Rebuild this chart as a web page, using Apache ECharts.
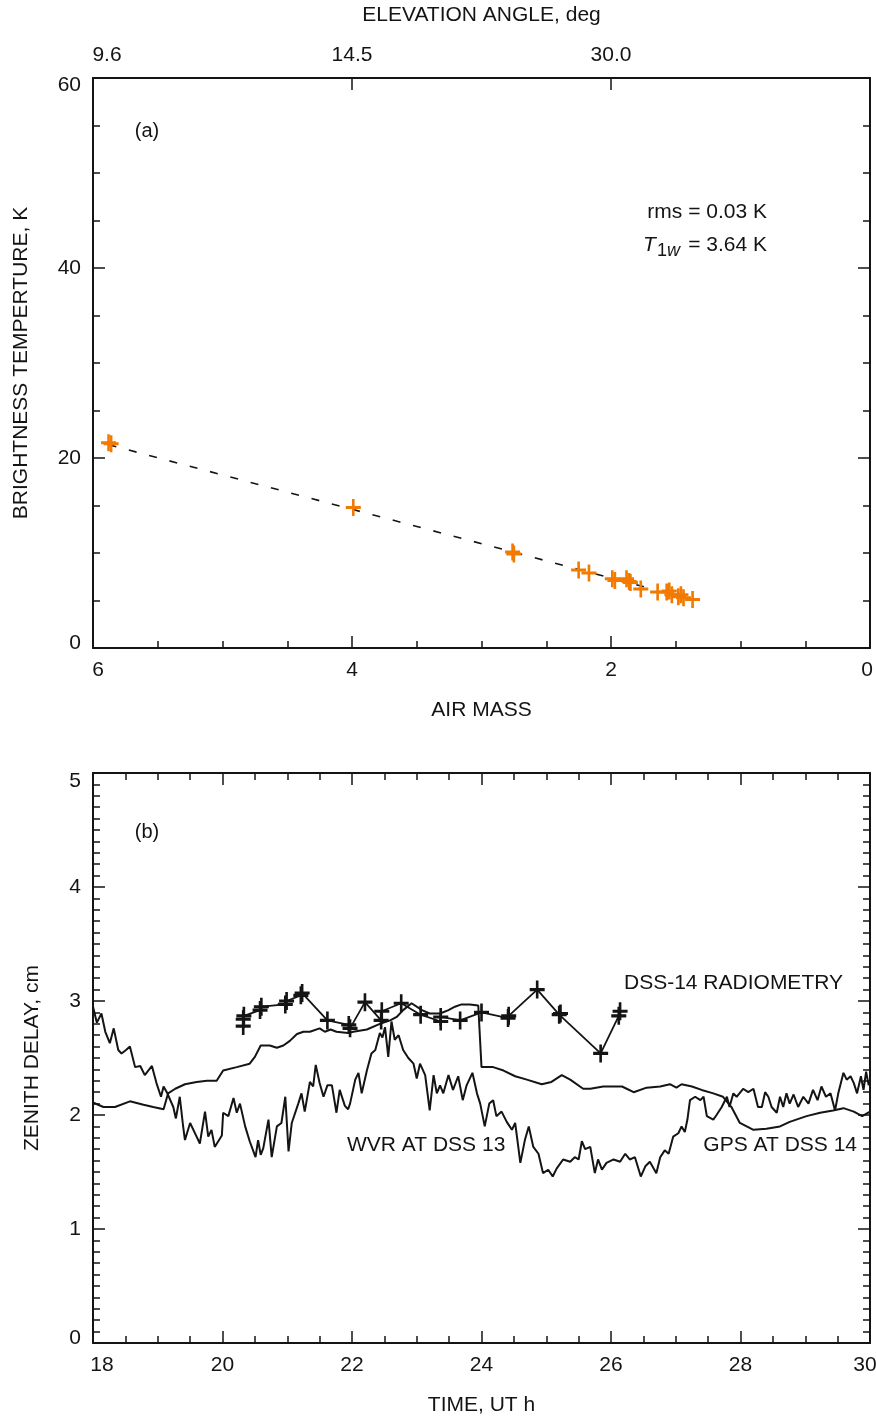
<!DOCTYPE html>
<html>
<head>
<meta charset="utf-8">
<script src="https://cdn.jsdelivr.net/npm/echarts@6/dist/echarts.min.js"></script>
<style>
  html, body { margin: 0; padding: 0; background: #fff; }
  #chart { width: 876px; height: 1422px; }
</style>
</head>
<body>
<div id="chart"></div>
<script>
// panel (a): brightness temperature vs air mass
const airMass = [5.88, 5.86, 3.99, 2.76, 2.75, 2.25, 2.17, 1.99, 1.97, 1.88, 1.86, 1.85, 1.77, 1.64, 1.57, 1.55, 1.53, 1.48, 1.46, 1.44, 1.37]
const brightTemp = [21.6, 21.5, 14.8, 10.1, 9.9, 8.2, 7.9, 7.3, 7.1, 7.3, 7.0, 6.9, 6.2, 5.9, 5.9, 6.0, 5.6, 5.4, 5.6, 5.3, 5.1]
const fitAirMass = [5.88, 1.65]
const fitTemp = [21.4, 6.1]
const elevationLabels = { 6: '9.6', 4: '14.5', 2: '30.0' }

// panel (b): zenith delay vs time
const radTime = [20.32, 20.32, 20.33, 20.58, 20.60, 20.97, 20.99, 21.21, 21.23, 21.62, 21.95, 21.97, 22.20, 22.45, 22.46, 22.76, 23.06, 23.37, 23.37, 23.67, 24.00, 24.41, 24.42, 24.86, 25.20, 25.22, 25.84, 26.12, 26.14]
const radDelay = [2.78, 2.84, 2.87, 2.92, 2.95, 2.97, 3.00, 3.05, 3.07, 2.83, 2.79, 2.76, 2.99, 2.83, 2.91, 2.98, 2.88, 2.82, 2.86, 2.83, 2.90, 2.85, 2.87, 3.10, 2.88, 2.89, 2.54, 2.87, 2.91]

const wvrTime = [18.00, 18.06, 18.13, 18.19, 18.26, 18.32, 18.39, 18.44, 18.51, 18.57, 18.65, 18.73, 18.80, 18.91, 18.98,
  19.05, 19.09, 19.14, 19.24, 19.28, 19.34, 19.39, 19.42, 19.50, 19.60, 19.65, 19.73, 19.78, 19.83, 19.88, 19.99,
  20.01, 20.09, 20.17, 20.22, 20.27, 20.35, 20.42, 20.51, 20.55, 20.59, 20.63, 20.71, 20.76, 20.84, 20.91, 20.97,
  21.02, 21.07, 21.17, 21.22, 21.27, 21.35, 21.40, 21.44, 21.50, 21.56, 21.62, 21.69, 21.76, 21.81, 21.84, 21.89, 21.94, 21.97,
  22.05, 22.10, 22.15, 22.23, 22.30, 22.36, 22.43, 22.47, 22.51, 22.56, 22.61, 22.66, 22.72, 22.79, 22.87, 22.95,
  23.00, 23.05, 23.13, 23.20, 23.26, 23.31, 23.36, 23.41, 23.49, 23.56, 23.64, 23.71, 23.77, 23.86, 23.93, 23.98,
  24.05, 24.12, 24.18, 24.23, 24.31, 24.39, 24.47, 24.52, 24.60, 24.67, 24.73, 24.80, 24.88, 24.95,
  25.03, 25.10, 25.16, 25.26, 25.37, 25.44, 25.50, 25.55, 25.60, 25.68, 25.75, 25.80, 25.86, 25.93,
  26.04, 26.14, 26.22, 26.29, 26.37, 26.46, 26.53, 26.60, 26.70, 26.76, 26.83, 26.89, 26.96,
  27.04, 27.09, 27.14, 27.18, 27.22, 27.30, 27.38, 27.43, 27.48, 27.58, 27.63, 27.71, 27.79, 27.83, 27.89, 27.94,
  28.04, 28.12, 28.20, 28.27, 28.33, 28.38, 28.43, 28.48, 28.56, 28.61, 28.66, 28.71, 28.76, 28.82, 28.89, 28.97,
  29.05, 29.12, 29.19, 29.25, 29.32, 29.39, 29.46, 29.51, 29.59, 29.64, 29.70, 29.75, 29.80, 29.86, 29.90, 29.94, 29.98]
const wvrDelay = [2.95, 2.81, 2.89, 2.73, 2.63, 2.76, 2.57, 2.54, 2.57, 2.60, 2.42, 2.43, 2.35, 2.43, 2.28,
  2.16, 2.25, 2.20, 2.07, 1.97, 2.16, 1.91, 1.78, 1.93, 1.81, 1.75, 2.03, 1.81, 1.87, 1.72, 1.82,
  2.02, 1.99, 2.15, 2.02, 2.10, 1.90, 1.77, 1.63, 1.78, 1.65, 1.71, 1.96, 1.63, 1.90, 1.93, 2.16,
  1.68, 1.93, 2.10, 2.19, 2.03, 2.29, 2.25, 2.44, 2.28, 2.16, 2.26, 2.26, 2.02, 2.22, 2.22, 2.08, 2.05, 2.10,
  2.31, 2.37, 2.19, 2.39, 2.54, 2.57, 2.72, 2.68, 2.77, 2.51, 2.82, 2.66, 2.70, 2.57, 2.50, 2.45,
  2.32, 2.45, 2.35, 2.04, 2.35, 2.19, 2.26, 2.19, 2.35, 2.22, 2.34, 2.13, 2.26, 2.37, 2.19, 2.10,
  1.90, 2.10, 2.13, 1.99, 2.03, 1.94, 1.87, 1.93, 1.58, 1.78, 1.90, 1.72, 1.66, 1.49,
  1.52, 1.46, 1.53, 1.61, 1.59, 1.63, 1.61, 1.77, 1.70, 1.72, 1.49, 1.61, 1.52, 1.58,
  1.61, 1.59, 1.66, 1.61, 1.63, 1.46, 1.55, 1.59, 1.49, 1.63, 1.69, 1.66, 1.81,
  1.84, 1.90, 1.85, 1.96, 2.13, 2.16, 2.13, 2.16, 1.99, 1.96, 2.00, 2.07, 2.16, 2.07, 2.19, 2.16,
  2.23, 2.20, 2.23, 2.07, 2.07, 2.20, 2.16, 2.07, 2.02, 2.16, 2.07, 2.19, 2.10, 2.18, 2.07, 2.16,
  2.10, 2.22, 2.13, 2.25, 2.16, 2.19, 2.04, 2.19, 2.37, 2.31, 2.34, 2.28, 2.19, 2.34, 2.22, 2.38, 2.26]

const gpsTime = [18.00, 18.16, 18.34, 18.57, 18.78, 18.93, 19.09, 19.16, 19.27, 19.42, 19.60, 19.76, 19.91,
  20.01, 20.22, 20.42, 20.50, 20.59, 20.73, 20.84, 20.94, 21.04, 21.15, 21.25, 21.35, 21.50, 21.58, 21.67, 21.76, 21.94,
  22.02, 22.23, 22.43, 22.59, 22.69, 22.79, 22.92, 23.08, 23.20, 23.36, 23.49, 23.59, 23.69, 23.82, 23.95,
  24.00, 24.18, 24.34, 24.52, 24.70, 24.93, 25.08, 25.24, 25.37, 25.57, 25.68, 25.88,
  26.17, 26.35, 26.55, 26.76, 26.91, 27.01, 27.09, 27.25, 27.40, 27.58, 27.73, 27.86, 27.99,
  28.20, 28.40, 28.61, 28.76, 29.02, 29.23, 29.43, 29.59, 29.75, 29.88, 30.00]
const gpsDelay = [2.11, 2.07, 2.07, 2.12, 2.09, 2.07, 2.05, 2.19, 2.23, 2.27, 2.29, 2.30, 2.30,
  2.39, 2.42, 2.45, 2.51, 2.61, 2.61, 2.59, 2.61, 2.65, 2.71, 2.73, 2.73, 2.76, 2.73, 2.75, 2.73, 2.72,
  2.73, 2.75, 2.80, 2.83, 2.86, 2.92, 2.98, 2.92, 2.89, 2.89, 2.92, 2.95, 2.97, 2.97, 2.96,
  2.42, 2.42, 2.39, 2.34, 2.31, 2.27, 2.29, 2.35, 2.31, 2.23, 2.23, 2.25,
  2.25, 2.20, 2.24, 2.25, 2.27, 2.24, 2.27, 2.25, 2.22, 2.19, 2.16, 2.07, 1.93,
  1.87, 1.88, 1.90, 1.94, 1.99, 2.02, 2.04, 2.06, 2.03, 1.99, 2.03]

const FONT = '"Liberation Sans", Arial, Helvetica, sans-serif'
const INK = '#141414'
const ORANGE = '#f27a00'
// plus sign drawn as a filled outline so it scales with symbolSize
const PLUS = 'path://M-1.4,-8H1.4V-1.4H8V1.4H1.4V8H-1.4V1.4H-8V-1.4H-1.4Z'

const zip = (xs, ys) => xs.map((x, i) => [x, ys[i]])

// end labels sit inside the frame like in the original plot
function edgeLabels(lo, hi, shiftLo, shiftHi, vertical, names) {
  const base = { color: INK, fontSize: 21, fontFamily: FONT }
  const padLo = vertical ? [0, 0, shiftLo, 0] : [0, 0, 0, shiftLo]
  const padHi = vertical ? [shiftHi, 0, 0, 0] : [0, shiftHi, 0, 0]
  return {
    color: INK, fontSize: 21, fontFamily: FONT, margin: 12,
    formatter: v => {
      const t = names ? (names[v] || '') : String(v)
      if (v === lo) return t ? '{lo|' + t + '}' : ''
      if (v === hi) return t ? '{hi|' + t + '}' : ''
      return t
    },
    rich: {
      lo: Object.assign({ padding: padLo }, base),
      hi: Object.assign({ padding: padHi }, base)
    }
  }
}

function frameAxis(extra) {
  return Object.assign({
    type: 'value',
    axisLine: { show: true, onZero: false, lineStyle: { color: INK, width: 2 } },
    axisTick: { show: true, inside: true, length: 12, lineStyle: { color: INK, width: 1.5 } },
    minorTick: { show: true, length: 7, lineStyle: { color: INK, width: 1.5 } },
    splitLine: { show: false },
    minorSplitLine: { show: false },
    axisLabel: { color: INK, fontSize: 21, fontFamily: FONT, margin: 12 },
    nameTextStyle: { color: INK, fontSize: 21, fontFamily: FONT },
    nameLocation: 'middle'
  }, extra)
}

function text(x, y, str, opts) {
  const o = opts || {}
  return {
    type: 'text',
    x: x,
    y: y,
    silent: true,
    style: {
      text: str,
      fill: INK,
      font: (o.italic ? 'italic ' : '') + (o.size || 21) + 'px ' + FONT,
      align: o.align || 'left',
      verticalAlign: 'middle',
      textAlign: o.align || 'left',
      textVerticalAlign: 'middle'
    }
  }
}

const minor = n => ({ show: true, splitNumber: n, length: 7, lineStyle: { color: INK, width: 1.5 } })

const chart = echarts.init(document.getElementById('chart'))

chart.setOption({
  animation: false,
  backgroundColor: '#fff',
  grid: [
    { left: 93, top: 78, width: 777, height: 570, outerBoundsMode: 'none' },
    { left: 93, top: 773, width: 777, height: 570, outerBoundsMode: 'none' }
  ],
  xAxis: [
    // inverse axis: 6 is on the left, 0 on the right
    frameAxis({
      gridIndex: 0, min: 0, max: 6, interval: 2, inverse: true, position: 'bottom',
      minorTick: minor(4),
      axisLabel: edgeLabels(6, 0, 10, 6, false),
      name: 'AIR MASS', nameGap: 52
    }),
    frameAxis({
      gridIndex: 0, min: 0, max: 6, interval: 2, inverse: true, position: 'top',
      minorTick: { show: false },
      axisLabel: edgeLabels(6, 0, 28, 0, false, elevationLabels),
      name: 'ELEVATION ANGLE, deg', nameGap: 52
    }),
    frameAxis({
      gridIndex: 1, min: 18, max: 30, interval: 2, position: 'bottom',
      minorTick: minor(4),
      axisLabel: edgeLabels(18, 30, 18, 10, false),
      name: 'TIME, UT h', nameGap: 52
    }),
    frameAxis({
      gridIndex: 1, min: 18, max: 30, interval: 2, position: 'top',
      minorTick: minor(4),
      axisLabel: { show: false }
    })
  ],
  yAxis: [
    frameAxis({
      gridIndex: 0, min: 0, max: 60, interval: 20, position: 'left',
      minorTick: minor(4),
      axisLabel: edgeLabels(0, 60, 10, 14, true),
      name: 'BRIGHTNESS TEMPERTURE, K', nameGap: 61, nameRotate: 90
    }),
    frameAxis({
      gridIndex: 0, min: 0, max: 60, interval: 20, position: 'right',
      minorTick: minor(4),
      axisLabel: { show: false }
    }),
    frameAxis({
      gridIndex: 1, min: 0, max: 5, interval: 1, position: 'left',
      minorTick: minor(10),
      axisLabel: edgeLabels(0, 5, 10, 16, true),
      name: 'ZENITH DELAY, cm', nameGap: 50, nameRotate: 90
    }),
    frameAxis({
      gridIndex: 1, min: 0, max: 5, interval: 1, position: 'right',
      minorTick: minor(10),
      axisLabel: { show: false }
    })
  ],
  series: [
    {
      name: 'fit',
      type: 'line',
      xAxisIndex: 0, yAxisIndex: 0,
      data: zip(fitAirMass, fitTemp),
      symbol: 'none',
      lineStyle: { color: INK, width: 1.6, type: [8, 13] },
      z: 2
    },
    {
      name: 'tipping',
      type: 'scatter',
      xAxisIndex: 0, yAxisIndex: 0,
      data: zip(airMass, brightTemp),
      symbol: PLUS,
      symbolSize: [15, 17],
      itemStyle: { color: ORANGE, opacity: 1 },
      z: 3
    },
    {
      name: 'WVR AT DSS 13',
      type: 'line',
      xAxisIndex: 2, yAxisIndex: 2,
      data: zip(wvrTime, wvrDelay),
      symbol: 'none',
      lineStyle: { color: INK, width: 2 }
    },
    {
      name: 'GPS AT DSS 14',
      type: 'line',
      xAxisIndex: 2, yAxisIndex: 2,
      data: zip(gpsTime, gpsDelay),
      symbol: 'none',
      lineStyle: { color: INK, width: 2 }
    },
    {
      name: 'DSS-14 RADIOMETRY',
      type: 'line',
      xAxisIndex: 2, yAxisIndex: 2,
      data: zip(radTime, radDelay),
      symbol: PLUS,
      symbolSize: [15, 18],
      showAllSymbol: true,
      itemStyle: { color: INK },
      lineStyle: { color: INK, width: 1.8 },
      z: 4
    }
  ],
  graphic: [
    text(147, 131, '(a)', { align: 'center', size: 20 }),
    text(767, 212, 'rms = 0.03 K', { align: 'right' }),
    text(643, 245, 'T', { italic: true }),
    text(657, 251, '1', { size: 18 }),
    text(667, 251, 'w', { size: 18, italic: true }),
    text(767, 245, '= 3.64 K', { align: 'right' }),
    text(147, 832, '(b)', { align: 'center', size: 20 }),
    text(843, 983, 'DSS-14 RADIOMETRY', { align: 'right' }),
    text(347, 1145, 'WVR AT DSS 13'),
    text(857, 1145, 'GPS AT DSS 14', { align: 'right' })
  ]
})
</script>
</body>
</html>
